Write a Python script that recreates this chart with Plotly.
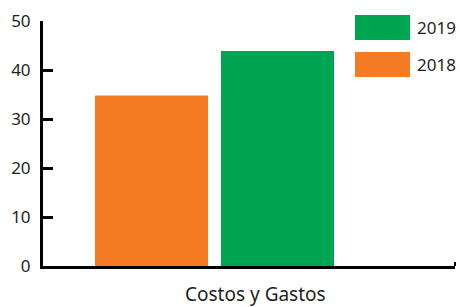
import plotly.graph_objects as go

category = ["Costos y Gastos"]
series_names = ["2018", "2019"]
values_2018 = [34.8]
values_2019 = [43.9]
colors = {"2018": "#F47A23", "2019": "#00A551"}
y_ticks = [0, 10, 20, 30, 40, 50]

FONT = "Noto Sans"
TXT = "#231F20"

fig = go.Figure()
for name, vals in zip(series_names, [values_2018, values_2019]):
    fig.add_trace(go.Bar(x=category, y=vals, name=name, marker=dict(color=colors[name], line=dict(width=0)),
                         showlegend=False))

W, H = 460, 307
ml, mr, mt, mb = 43, 5, 21, 41
pw, ph = W - ml - mr, H - mt - mb

fig.update_layout(
    width=W, height=H,
    margin=dict(l=ml, r=mr, t=mt, b=mb, pad=0, autoexpand=False),
    paper_bgcolor="white", plot_bgcolor="white",
    barmode="group", bargap=0.1, bargroupgap=0.103,
    font=dict(family=FONT, size=17, color=TXT),
    xaxis=dict(type="category", range=[-0.6125, 0.859], showline=True, linecolor="black", linewidth=3,
               showticklabels=False, ticks="", showgrid=False, zeroline=False, automargin=False),
    yaxis=dict(range=[0, 50], tickvals=y_ticks, showline=True, linecolor="black", linewidth=3,
               ticks="inside", ticklen=10, tickwidth=3, tickcolor="black", showgrid=False, zeroline=False,
               automargin=False, ticklabelstandoff=6, tickfont=dict(size=17, family=FONT, color=TXT)),
)

# category label below the axis (slightly right of plot centre, as in the reference)
fig.add_annotation(xref="paper", yref="paper", x=(255 - ml) / pw, y=-(294 - (H - mb)) / ph,
                   text=category[0], showarrow=False, xanchor="center", yanchor="middle",
                   font=dict(size=19, family=FONT, color=TXT))

# small end tick at right of x axis
fig.add_shape(type="line", xref="paper", yref="paper", x0=1, x1=1, y0=0, y1=4 / ph,
              line=dict(color="black", width=2))

# custom legend with large swatches (2019 on top, 2018 below)
legend_rows = [("2019", 15, 40), ("2018", 52, 77)]
for name, top, bot in legend_rows:
    x0 = (355 - ml) / pw
    x1 = (410 - ml) / pw
    y0 = (H - mb - bot) / ph
    y1 = (H - mb - top) / ph
    fig.add_shape(type="rect", xref="paper", yref="paper", x0=x0, x1=x1, y0=y0, y1=y1,
                  fillcolor=colors[name], line=dict(width=0))
    fig.add_annotation(xref="paper", yref="paper", x=(415 - ml) / pw, y=(y0 + y1) / 2,
                       text=name, showarrow=False, xanchor="left", yanchor="middle",
                       font=dict(size=17, family=FONT, color=TXT))

fig.write_html("out.html", config={"displayModeBar": False},
               post_script="document.body.style.margin='0';document.body.style.padding='0';")
